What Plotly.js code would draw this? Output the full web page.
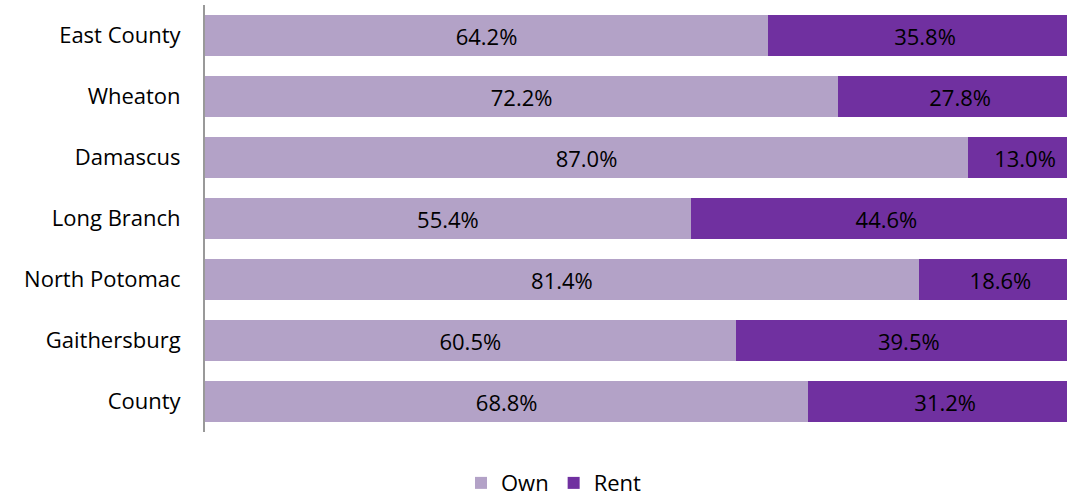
<!DOCTYPE html>
<html>
<head>
<meta charset="utf-8">
<script src="https://cdn.plot.ly/plotly-3.0.1.min.js"></script>
<style>html,body{margin:0;padding:0;background:#fff;overflow:hidden;width:1067px;height:497px;}#chart{width:1082px;height:497px;}</style>
</head>
<body>
<div id="chart"></div>
<script>
const categories = ["East County", "Wheaton", "Damascus", "Long Branch", "North Potomac", "Gaithersburg", "County"];
const own = [64.2, 72.2, 87.0, 55.4, 81.4, 60.5, 68.8];
const rent = [35.8, 27.8, 13.0, 44.6, 18.6, 39.5, 31.2];
const fmt = v => v.toFixed(1) + "%";
const font = {family: "Open Sans, Liberation Sans, sans-serif", size: 22, color: "#000"};
const traces = [
  {type: "bar", orientation: "h", name: "Own", y: categories, x: own, text: own.map(fmt),
   textposition: "inside", insidetextanchor: "middle", textfont: font,
   marker: {color: "#B3A2C7"}, hoverinfo: "none"},
  {type: "bar", orientation: "h", name: "Rent", y: categories, x: rent, text: rent.map(fmt),
   textposition: "inside", insidetextanchor: "middle", textfont: font,
   marker: {color: "#7030A0"}, hoverinfo: "none"}
];
const layout = {
  width: 1082, height: 497, barmode: "stack", bargap: 0.33,
  margin: {l: 205, r: 0, t: 5, b: 65},
  paper_bgcolor: "#fff", plot_bgcolor: "#fff",
  font: font,
  xaxis: {range: [0, 100], visible: false, fixedrange: true},
  yaxis: {autorange: "reversed", showline: true, linecolor: "#999", linewidth: 2,
          ticks: "", ticklen: 0, showgrid: false, zeroline: false,
          tickfont: font, ticklabelstandoff: 18},
  showlegend: true,
  legend: {orientation: "h", xref: "container", x: 0.512, xanchor: "center",
           yref: "container", y: 0.028, yanchor: "middle", font: font,
           traceorder: "normal"},
  uniformtext: {mode: "show", minsize: 22}
};
Plotly.newPlot("chart", traces, layout, {displayModeBar: false, staticPlot: true});
</script>
</body>
</html>
